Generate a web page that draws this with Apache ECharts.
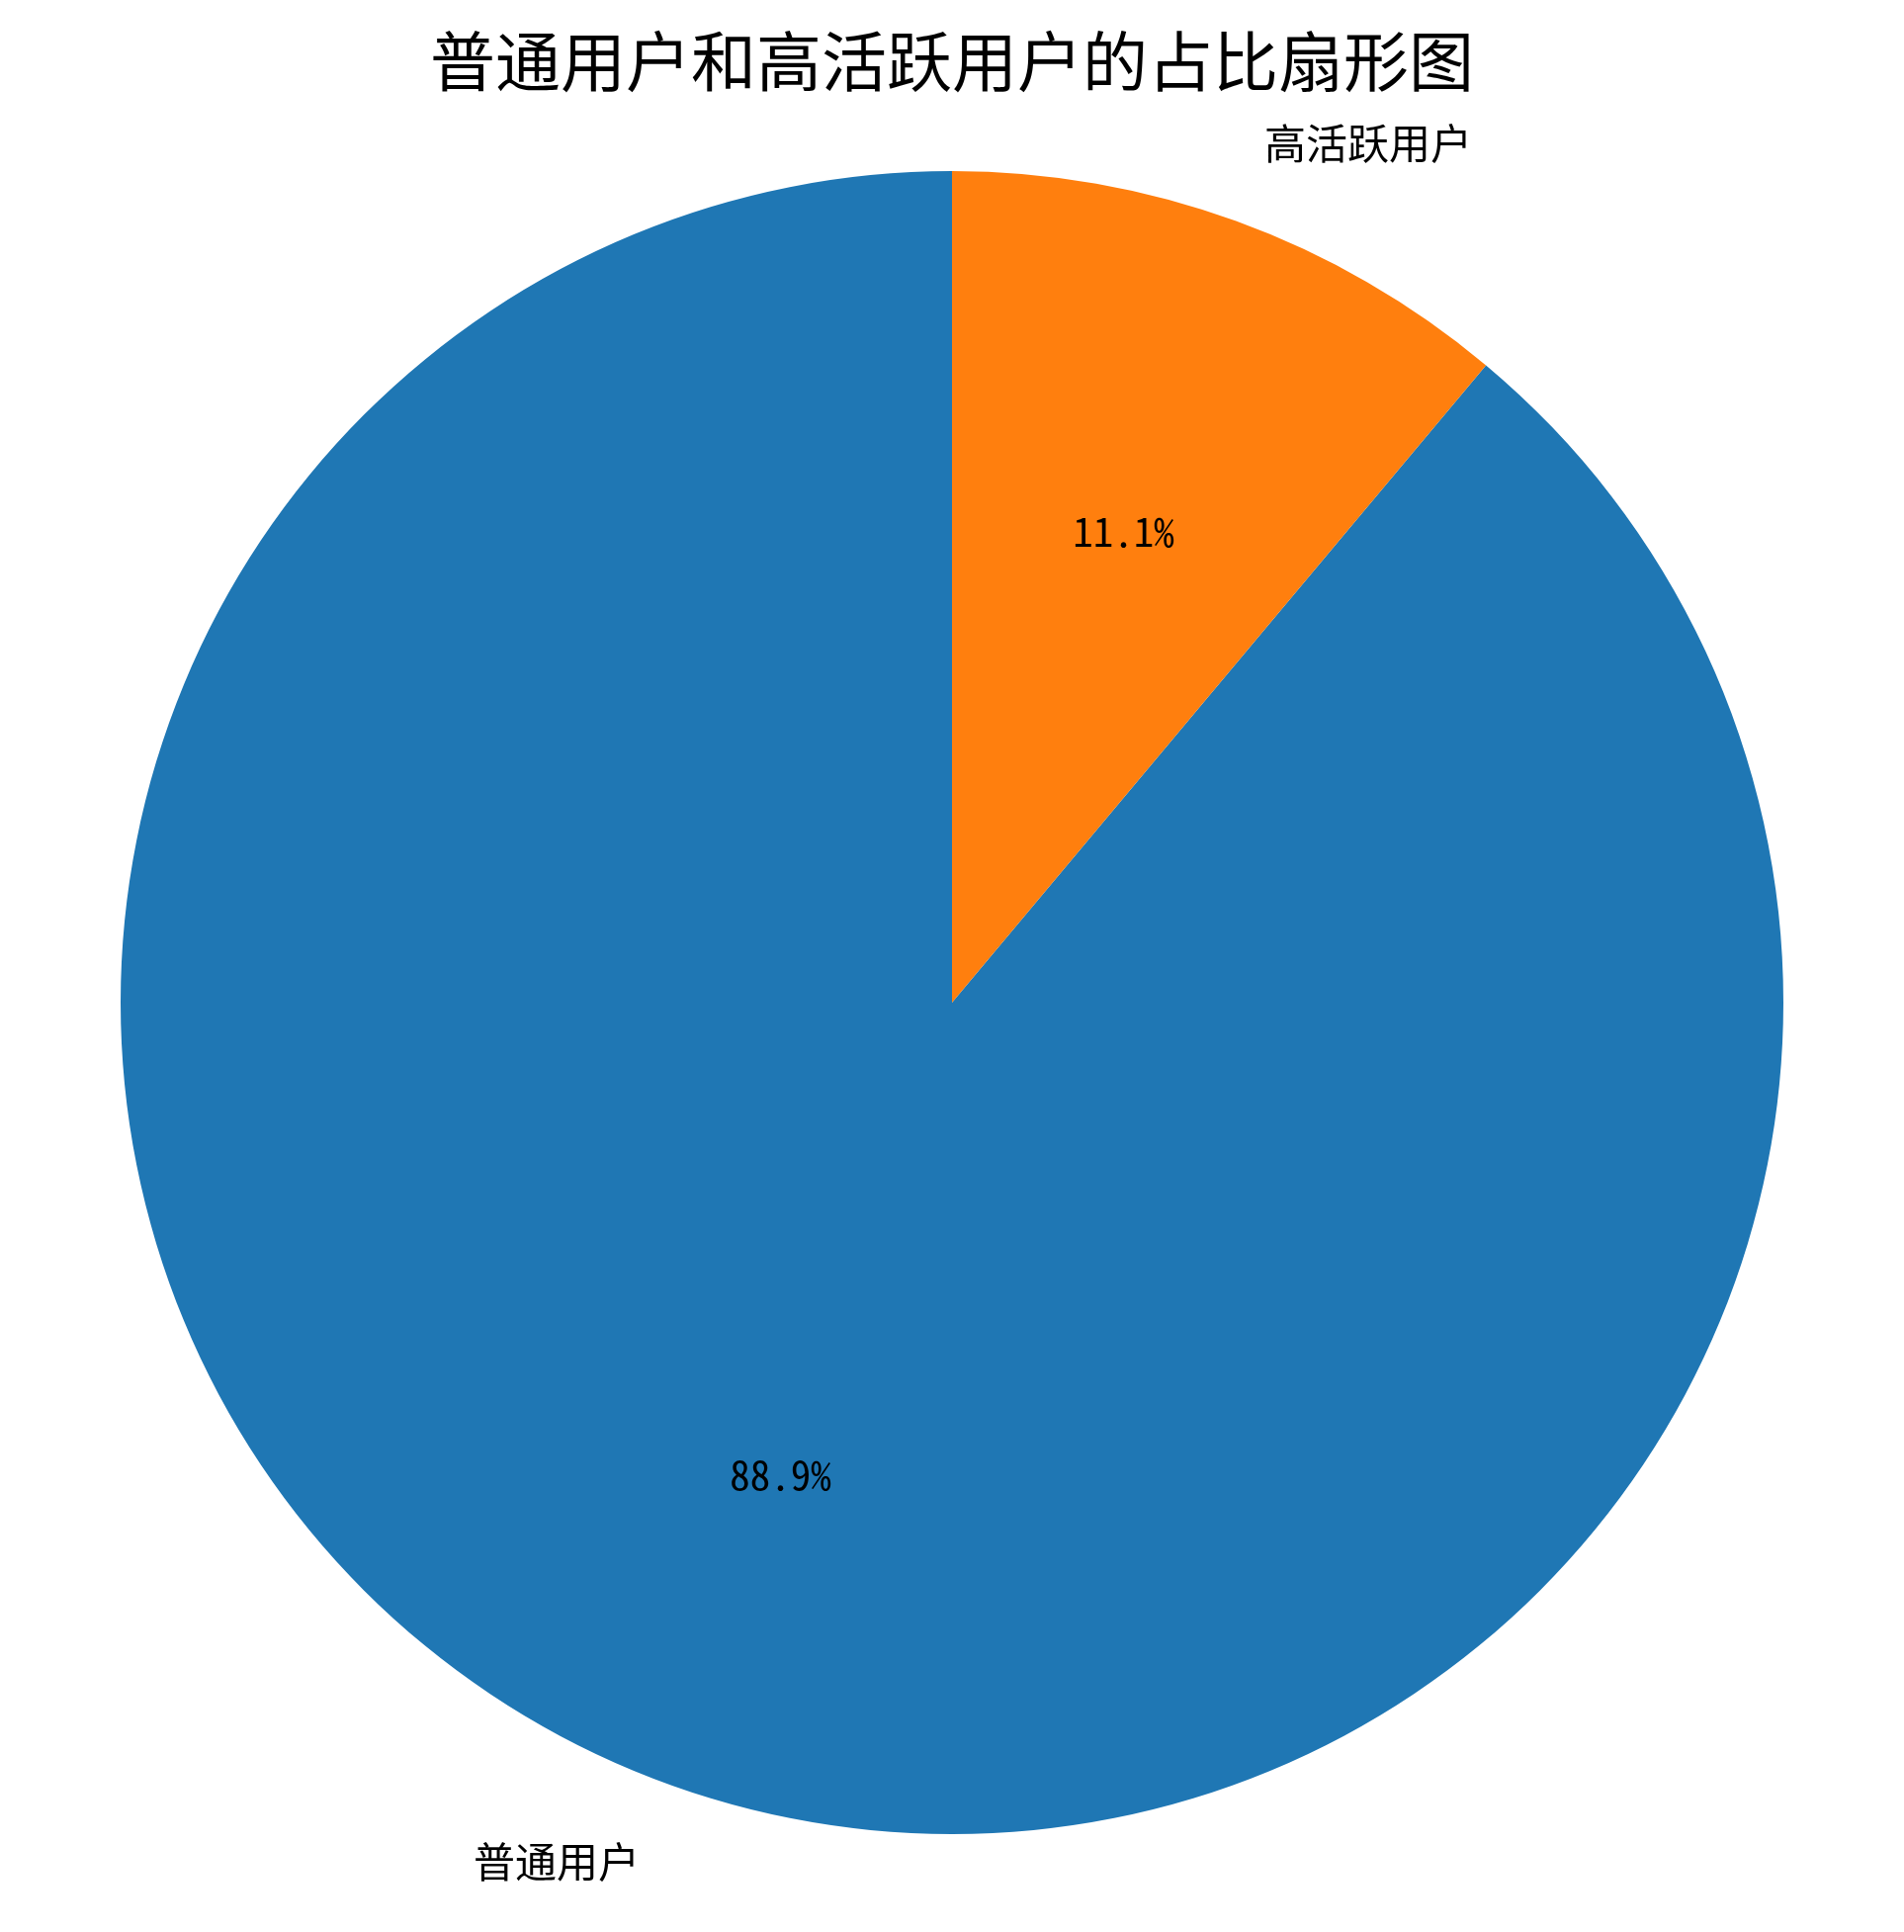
<!DOCTYPE html>
<html>
<head>
<meta charset="utf-8">
<script src="https://cdn.jsdelivr.net/npm/echarts@6/dist/echarts.min.js"></script>
<style>
html,body{margin:0;padding:0;background:#fff;}
#chart{width:1926px;height:1954px;}
</style>
</head>
<body>
<div id="chart"></div>
<script>
const titleText = '普通用户和高活跃用户的占比扇形图';
const categories = ['普通用户', '高活跃用户'];
const values = [88.9, 11.1];
const colors = ['#1f77b4', '#ff7f0e'];

const cx = 963, cy = 1014, R = 841;
const cjk = '"Noto Sans CJK SC", "Noto Sans CJK JP", sans-serif';
const mono = '"Noto Sans Mono CJK SC", "Noto Sans CJK SC", sans-serif';

const data = categories.map((n, i) => ({ name: n, value: values[i], itemStyle: { color: colors[i] } }));
const chart = echarts.init(document.getElementById('chart'), null, { renderer: 'canvas' });
chart.setOption({
  backgroundColor: '#ffffff',
  animation: false,
  title: {
    text: titleText,
    left: 'center',
    top: 24,
    textStyle: { fontFamily: cjk, fontSize: 66, fontWeight: 'normal', color: '#000' }
  },
  series: [
    {
      type: 'pie',
      center: [cx, cy],
      radius: [0, R],
      startAngle: 90,
      clockwise: false,
      avoidLabelOverlap: false,
      silent: true,
      emphasis: { disabled: true },
      label: {
        show: true,
        position: 'outside',
        formatter: '{b}',
        fontFamily: cjk,
        fontSize: 42,
        color: '#000',
        distanceToLabelLine: 0
      },
      labelLine: { show: false, length: 0.1 * R, length2: 0 },
      data: data
    },
    {
      type: 'pie',
      center: [cx, cy],
      radius: [0.2 * R, R],
      startAngle: 90,
      clockwise: false,
      avoidLabelOverlap: false,
      silent: true,
      emphasis: { disabled: true },
      itemStyle: { color: 'rgba(0,0,0,0)' },
      label: {
        show: true,
        position: 'inside',
        formatter: p => p.value.toFixed(1) + '%',
        fontFamily: mono,
        fontSize: 41,
        color: '#000'
      },
      labelLine: { show: false },
      data: categories.map((n, i) => ({ name: n, value: values[i], itemStyle: { color: 'rgba(0,0,0,0)' } }))
    }
  ]
});
</script>
</body>
</html>
